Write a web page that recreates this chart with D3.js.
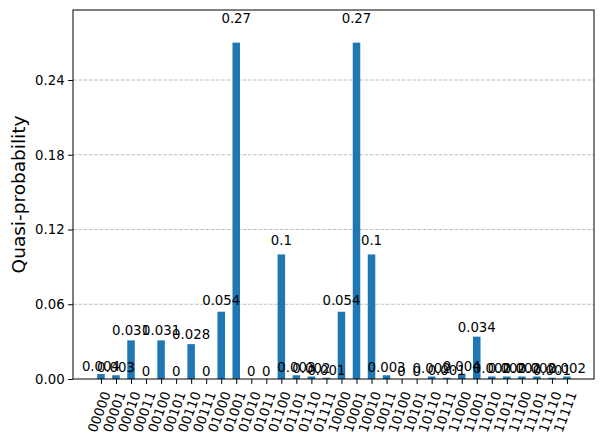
<!DOCTYPE html>
<html><head><meta charset="utf-8">
<script src="https://cdn.jsdelivr.net/npm/d3@7"></script>
<style>body{margin:0;background:#fff}text{font-family:"DejaVu Sans",sans-serif}</style>
</head><body><svg id="chart" width="603" height="442"></svg>
<script>
// states and quasi-probabilities
var states = ["00000","00001","00010","00011","00100","00101","00110","00111",
  "01000","01001","01010","01011","01100","01101","01110","01111",
  "10000","10001","10010","10011","10100","10101","10110","10111",
  "11000","11001","11010","11011","11100","11101","11110","11111"];
var values = [0.004,0.003,0.031,0,0.031,0,0.028,0,
  0.054,0.27,0,0,0.1,0.003,0.002,0.001,
  0.054,0.27,0.1,0.003,0,0,0.002,0.001,
  0.004,0.034,0.002,0.002,0.002,0.002,0.001,0.002];
var yTicks = [0,0.06,0.12,0.18,0.24];

var svg = d3.select("#chart");
var pLeft = 73, pRight = 594, pTop = 10, pBottom = 379;
var x = d3.scaleLinear().domain([-1.86, 32.8]).range([pLeft, pRight]);
var y = d3.scaleLinear().domain([0, 0.2962]).range([pBottom, pTop]);

// grid
svg.append("g").selectAll("line").data(yTicks.slice(1)).join("line")
  .attr("x1", pLeft).attr("x2", pRight)
  .attr("y1", d => y(d)).attr("y2", d => y(d))
  .attr("stroke", "#b0b0b0").attr("stroke-dasharray", "3.7,1.6").attr("stroke-width", 0.8);

// bars
svg.append("g").selectAll("rect").data(values).join("rect")
  .attr("x", (d, i) => x(i - 0.25)).attr("width", x(0.5) - x(0))
  .attr("y", d => y(d)).attr("height", d => pBottom - y(d))
  .attr("fill", "#1f77b4");

// value labels
svg.append("g").selectAll("text").data(values).join("text")
  .attr("x", (d, i) => x(i)).attr("y", d => y(d * 1.05) - 3)
  .attr("text-anchor", "middle").attr("font-size", 13.3).attr("fill", "#000")
  .text(d => d);

// y axis
var yAxis = svg.append("g").attr("transform", "translate(" + pLeft + ",0)")
  .call(d3.axisLeft(y).tickValues(yTicks).tickFormat(d3.format(".2f")).tickSize(4.9).tickPadding(3.5));
yAxis.select(".domain").remove();
yAxis.selectAll("text").attr("font-size", 13.3).attr("fill", "#000").style("font-family", "DejaVu Sans");

// x axis
var xAxis = svg.append("g").attr("transform", "translate(0," + pBottom + ")")
  .call(d3.axisBottom(x).tickValues(d3.range(states.length)).tickFormat(i => states[i]).tickSize(4.9));
xAxis.select(".domain").remove();
xAxis.selectAll("text").attr("font-size", 13.3).attr("fill", "#000").style("font-family", "DejaVu Sans")
  .attr("text-anchor", "end").attr("dy", "0.35em").attr("y", 0)
  .attr("transform", "translate(5,13) rotate(-70)");

// frame
svg.append("rect").attr("x", pLeft).attr("y", pTop).attr("width", pRight - pLeft).attr("height", pBottom - pTop)
  .attr("fill", "none").attr("stroke", "#000").attr("stroke-width", 1);

svg.append("text").attr("transform", "translate(25," + ((pTop + pBottom) / 2) + ") rotate(-90)")
  .attr("text-anchor", "middle").attr("font-size", 18.5).attr("fill", "#000").text("Quasi-probability");
</script></body></html>
